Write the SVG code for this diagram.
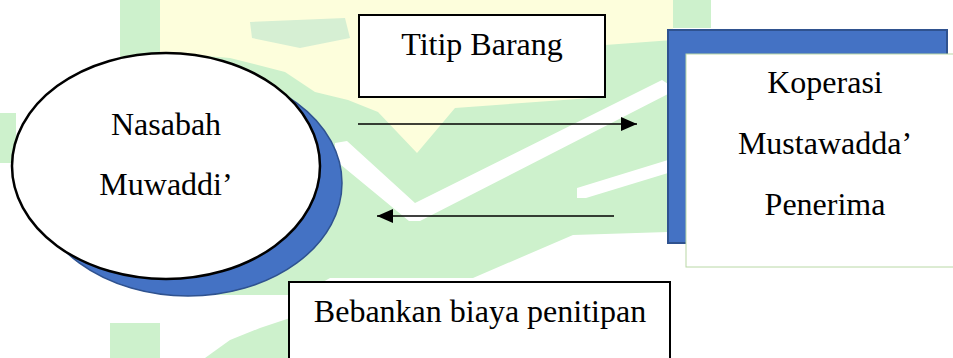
<svg xmlns="http://www.w3.org/2000/svg" width="953" height="358" viewBox="0 0 953 358">
  <defs>
    <style>
      .lbl { font-family: "Liberation Serif", "Times New Roman", serif; font-size: 32px; fill: #000; text-anchor: middle; }
      .wm-g { fill: #cdf1cc; stroke: none; }
      .wm-d { fill: #d6efd3; stroke: none; }
      .wm-y { fill: #fdfedc; stroke: none; }
      .wm-w { fill: #ffffff; stroke: none; }
      .box { fill: #ffffff; stroke: #000; stroke-width: 2; }
      .conn { stroke: #000; stroke-width: 1.5; fill: none; }
    </style>
    <marker id="arrow" viewBox="0 0 16 14" refX="16" refY="7" markerWidth="16" markerHeight="14" markerUnits="userSpaceOnUse" orient="auto">
      <path d="M0,0 L16,7 L0,14 Z" fill="#000"/>
    </marker>
  </defs>

  <rect x="0" y="0" width="953" height="358" fill="#ffffff"/>

  <!-- watermark background -->
  <g id="watermark">
    <polygon class="wm-g" points="120,0 711,0 711,28 668,28 668,232 573,235 473,278 330,278 300,295 180,295 120,200 120,0"/>
    <polygon class="wm-g" points="0,113 16,113 16,163 0,163"/>
    <polygon class="wm-g" points="110,323 160,323 160,358 110,358"/>
    <polygon class="wm-g" points="290,318 290,358 205,358 230,340 260,328"/>
    <polygon class="wm-y" points="160,0 673,0 673,40 605,45 605,97 455,108 417,153 378,112 348,100 315,92 285,72 230,58 160,52"/>
    <polygon class="wm-d" points="250,22 345,18 350,38 300,48 252,38"/>
    <polygon class="wm-w" points="335,143 347,141 415,203 662,80 668,84 668,94 420,221 409,221 335,160"/>
    <polygon class="wm-w" points="577,188 668,160 668,173 586,198 577,198"/>
  </g>

  <!-- Nasabah Muwaddi' -->
  <g id="node-nasabah">
    <ellipse cx="188" cy="183" rx="154" ry="113" fill="#4472c4" stroke="#2f528f" stroke-width="1.5"/>
    <ellipse cx="166" cy="166" rx="154" ry="113" fill="#ffffff" stroke="#000" stroke-width="2.5"/>
    <text class="lbl" x="166" y="135">Nasabah</text>
    <text class="lbl" x="166" y="195">Muwaddi’</text>
  </g>

  <!-- Koperasi Mustawadda' Penerima -->
  <g id="node-koperasi">
    <rect x="668" y="30" width="279" height="213" fill="#4472c4" stroke="#2f528f" stroke-width="2"/>
    <rect x="686" y="54" width="270" height="213" fill="#ffffff" stroke="#b9d8a6" stroke-width="1"/>
    <text class="lbl" x="825" y="93">Koperasi</text>
    <text class="lbl" x="825" y="154">Mustawadda’</text>
    <text class="lbl" x="825" y="215">Penerima</text>
  </g>

  <!-- Titip Barang label box -->
  <g id="label-titip">
    <rect class="box" x="359" y="15" width="246" height="82"/>
    <text class="lbl" x="482" y="55">Titip Barang</text>
  </g>

  <!-- Bebankan biaya penitipan label box -->
  <g id="label-bebankan">
    <rect class="box" x="289" y="282" width="381" height="90"/>
    <text class="lbl" x="480" y="322">Bebankan biaya penitipan</text>
  </g>

  <!-- connectors -->
  <g id="connectors">
    <line class="conn" x1="358" y1="124" x2="637" y2="124" marker-end="url(#arrow)"/>
    <line class="conn" x1="614" y1="216" x2="377" y2="216" marker-end="url(#arrow)"/>
  </g>
</svg>
